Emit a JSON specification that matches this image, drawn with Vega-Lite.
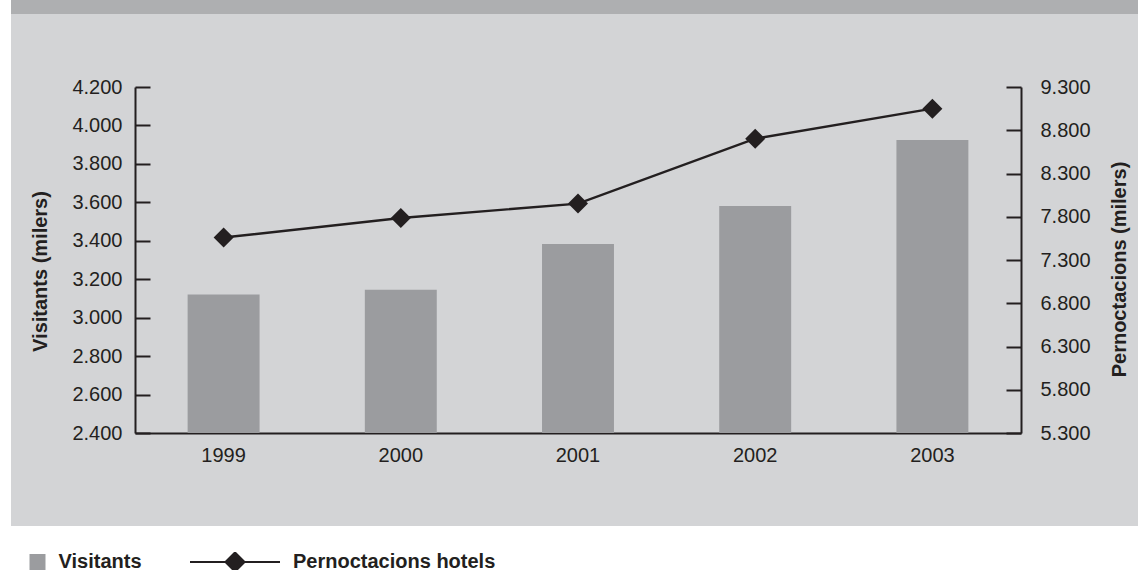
{
  "$schema": "https://vega.github.io/schema/vega-lite/v6.json",
  "background": "#ffffff",
  "padding": {"left": 11, "top": 0, "right": 0, "bottom": 0},
  "spacing": 0,
  "config": {
    "locale": {"number": {"decimal": ",", "thousands": ".", "grouping": [3], "currency": ["", " €"]}},
    "font": "Liberation Sans",
    "concat": {"spacing": 0}
  },
  "data": {
    "values": [
      {"any": "1999", "visitants": 3120, "pernoctacions": 7560},
      {"any": "2000", "visitants": 3145, "pernoctacions": 7785},
      {"any": "2001", "visitants": 3383, "pernoctacions": 7952},
      {"any": "2002", "visitants": 3581, "pernoctacions": 8702},
      {"any": "2003", "visitants": 3924, "pernoctacions": 9050}
    ]
  },
  "vconcat": [
    {
      "width": 1127,
      "height": 14,
      "view": {"fill": "#aeafb1", "stroke": null},
      "mark": {"type": "text", "text": ""}
    },
    {
      "width": 1127,
      "height": 512,
      "view": {"fill": "#d3d4d6", "stroke": null},
      "layer": [
        {
          "mark": {"type": "bar"},
          "encoding": {
            "x": {
              "field": "any",
              "type": "ordinal",
              "scale": {"range": [124, 1010], "paddingInner": 0.594, "paddingOuter": 0.297},
              "axis": {
                "orient": "bottom",
                "offset": -93,
                "title": null,
                "ticks": false,
                "tickSize": 0,
                "labelPadding": 12,
                "labelAngle": 0,
                "labelFont": "Liberation Sans",
                "labelFontSize": 20,
                "labelColor": "#231f20",
                "domainColor": "#231f20",
                "domainWidth": 2,
                "grid": false
              }
            },
            "y": {
              "field": "visitants",
              "type": "quantitative",
              "scale": {"domain": [2400, 4200], "range": [419, 73], "nice": false, "zero": false},
              "axis": {
                "orient": "left",
                "offset": -124,
                "values": [2400, 2600, 2800, 3000, 3200, 3400, 3600, 3800, 4000, 4200],
                "format": ",d",
                "title": "Visitants (milers)",
                "titleFont": "Liberation Sans",
                "titleFontSize": 20,
                "titleFontWeight": "bold",
                "titleColor": "#231f20",
                "titlePadding": 21,
                "titleY": 257,
                "labelFont": "Liberation Sans",
                "labelFontSize": 20,
                "labelColor": "#231f20",
                "labelPadding": 28,
                "labelOverlap": false,
                "tickSize": -15,
                "tickWidth": 2,
                "tickColor": "#231f20",
                "domainColor": "#231f20",
                "domainWidth": 2,
                "grid": false
              }
            },
            "y2": {"datum": 2400},
            "fill": {
              "datum": "Visitants",
              "scale": {"range": ["#9b9c9f"]},
              "legend": {
                "orient": "none",
                "legendX": 16.5,
                "legendY": 552,
                "title": null,
                "padding": 0,
                "symbolType": "square",
                "symbolSize": 256,
                "symbolStrokeWidth": 0,
                "labelFont": "Liberation Sans",
                "labelFontSize": 20,
                "labelFontWeight": "bold",
                "labelColor": "#231f20",
                "labelOffset": 11,
                "labelLimit": 400,
                "encode": {"symbols": {"update": {"fill": {"value": "#adaeb0"}, "strokeWidth": {"value": 0}}}}
              }
            }
          }
        },
        {
          "layer": [
            {
              "mark": {"type": "line", "strokeWidth": 2.4},
              "encoding": {
                "x": {"field": "any", "type": "ordinal"},
                "y": {
                  "field": "pernoctacions",
                  "type": "quantitative",
                  "scale": {"domain": [5300, 9300], "range": [419, 73], "nice": false, "zero": false},
                  "axis": {
                    "orient": "right",
                    "offset": -117,
                    "values": [5300, 5800, 6300, 6800, 7300, 7800, 8300, 8800, 9300],
                    "format": ",d",
                    "title": "Pernoctacions (milers)",
                    "titleAngle": 270,
                    "titleBaseline": "top",
                    "titleFont": "Liberation Sans",
                    "titleFontSize": 20,
                    "titleFontWeight": "bold",
                    "titleColor": "#231f20",
                    "titlePadding": 19,
                    "titleY": 255,
                    "labelFont": "Liberation Sans",
                    "labelFontSize": 20,
                    "labelColor": "#231f20",
                    "labelPadding": 34,
                    "labelOverlap": false,
                    "tickSize": -15,
                    "tickWidth": 2,
                    "tickColor": "#231f20",
                    "domainColor": "#231f20",
                    "domainWidth": 2,
                    "grid": false
                  }
                },
                "stroke": {
                  "datum": "Pernoctacions hotels",
                  "scale": {"range": ["#231f20"]},
                  "legend": {
                    "orient": "none",
                    "legendX": 179,
                    "legendY": 552,
                    "title": null,
                    "padding": 0,
                    "clipHeight": 20,
                    "symbolType": "M-1,-0.024L1,-0.024L1,0.024L-1,0.024ZM0,-0.244L0.244,0L0,0.244L-0.244,0Z",
                    "symbolSize": 8100,
                    "symbolFillColor": "#231f20",
                    "symbolStrokeColor": "#231f20",
                    "symbolStrokeWidth": 0,
                    "labelFont": "Liberation Sans",
                    "labelFontSize": 20,
                    "labelFontWeight": "bold",
                    "labelColor": "#231f20",
                    "labelOffset": 13,
                    "labelLimit": 400,
                    "encode": {"symbols": {"update": {"fill": {"value": "#231f20"}, "strokeWidth": {"value": 0}}}}
                  }
                }
              }
            },
            {
              "mark": {"type": "point", "shape": "diamond", "size": 400, "filled": true, "color": "#231f20", "opacity": 1, "strokeWidth": 0},
              "encoding": {
                "x": {"field": "any", "type": "ordinal"},
                "y": {"field": "pernoctacions", "type": "quantitative"}
              }
            }
          ]
        }
      ],
      "resolve": {"scale": {"y": "independent"}}
    }
  ]
}
